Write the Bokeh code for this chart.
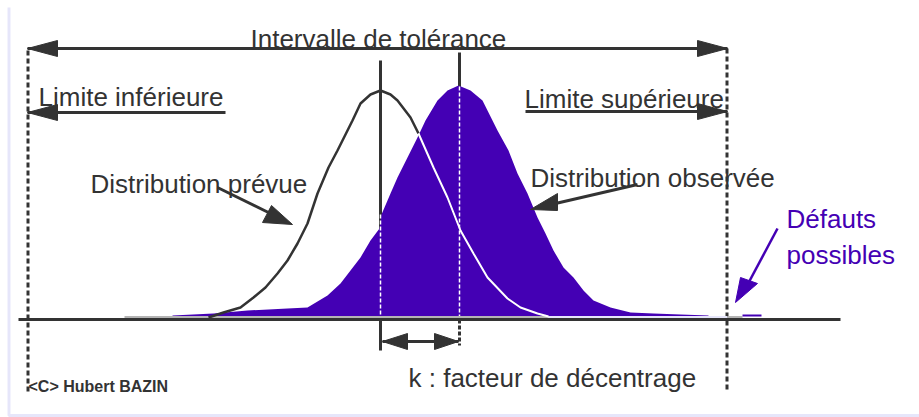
from bokeh.plotting import figure
from bokeh.models import Range1d
from bokeh.core.properties import value
from bokeh.embed import file_html
from bokeh.resources import INLINE

# ---------------- data (screen-like units) ----------------
# planned distribution (outline curve)
prevue_x = [208, 223, 240, 253, 265, 277, 287, 297, 307, 317, 328, 337, 352, 360, 370,
            380, 390, 397, 410, 418, 433, 447, 460, 473, 487, 507, 520, 537, 548]
prevue_y = [317, 312, 307, 297, 287, 273, 260, 243, 223, 193, 167, 150, 120, 103, 94,
            90, 94, 100, 117, 133, 167, 197, 230, 253, 277, 298, 307, 313, 316]
prevue_white_from = 418  # part of the outline lying inside the filled curve

# observed distribution (filled curve)
obs_x = [172, 213, 247, 287, 307, 327, 340, 350, 360, 370, 379, 381, 390, 397, 407, 417,
         425, 437, 447, 458, 470, 482, 497, 508, 517, 527, 537, 545, 553, 563, 573, 583,
         593, 610, 630, 653, 680, 708]
obs_y = [315, 313, 310, 308, 307, 295, 283, 270, 257, 240, 228, 214, 193, 177, 157, 137,
         120, 100, 90, 85, 90, 100, 130, 150, 173, 193, 217, 233, 250, 267, 277, 290,
         300, 307, 312, 313, 314, 315]
fill_bottom = 315.5

# tolerance limits and means
limit_x = [27.5, 726.5]
limit_top = [50, 48]
limit_bottom = 392
mean_x = [380, 459]
mean_top = [60, 52]
mean_fill_top = [214, 86]
mean_bottom = [350, 345]
baseline_y = 319
baseline_x = [18, 840]
strip_y = 316.5
strip_x0 = [124, 548, 727]
strip_x1 = [548, 727, 742]
defect_x = [742, 761]

# arrow shafts
shaft_x0 = [27, 27, 525, 217, 637, 382]
shaft_y0 = [48, 112, 111, 187, 184, 341]
shaft_x1 = [727, 225, 727, 272, 555, 458]
shaft_y1 = [48, 112, 111, 214, 203, 341]
defect_shaft = ([777, 228], [745, 288])

# arrow heads (triangles)
head_xs = [[27, 57, 57], [727, 697, 697], [27, 57, 57], [727, 697, 697],
           [292, 262, 271], [530, 557, 557], [382, 407, 407], [458, 434, 434]]
head_ys = [[48, 40, 56], [48, 40, 56], [112, 104, 120], [111, 103, 119],
           [224, 222, 205], [209, 193, 210], [341, 333, 349], [341, 333, 349]]
defect_head_xs = [[735, 740, 757]]
defect_head_ys = [[302, 277, 283]]

# texts
labels = ["Intervalle de tolérance", "Limite inférieure", "Limite supérieure",
          "Distribution prévue", "Distribution observée", "k : facteur de décentrage"]
label_x = [250, 38, 524, 90, 530, 408]
label_y = [38, 96, 98, 183, 177, 377]
defect_labels = ["Défauts", "possibles"]
defect_label_x = [786, 786]
defect_label_y = [218, 254]
credit = ["<C> Hubert BAZIN"]
credit_x = [28]
credit_y = [386]

# frame (left and bottom edges)
frame_x = [8.5, 8.5, 919]
frame_y = [7, 415, 415]

DARK = "#333333"
PURPLE = "#4400B4"
GRAY = "#b4b4b4"
LAV = "#e6e6fa"
FONT = value("Liberation Sans")

# ---------------- figure ----------------
W, H = 919, 417
p = figure(width=W, height=H, x_range=Range1d(0, W), y_range=Range1d(H, 0),
           output_backend="svg", toolbar_location=None, x_axis_type=None, y_axis_type=None,
           min_border=0, min_border_left=0, min_border_right=0, min_border_top=0,
           min_border_bottom=0)
p.grid.visible = False
p.outline_line_color = None
p.background_fill_color = "white"
p.border_fill_color = "white"

# frame
p.line(frame_x, frame_y, line_color=LAV, line_width=3)

# limits (dotted)
p.segment(x0=limit_x, y0=limit_top, x1=limit_x, y1=[limit_bottom] * 2,
          line_color=DARK, line_width=3, line_dash="5 3")

# mean lines (dark)
p.segment(x0=mean_x[:1], y0=mean_top[:1], x1=mean_x[:1], y1=mean_bottom[:1],
          line_color=DARK, line_width=3)
p.segment(x0=mean_x[1:], y0=mean_top[1:], x1=mean_x[1:], y1=[baseline_y],
          line_color=DARK, line_width=3)
p.segment(x0=mean_x[1:], y0=[baseline_y], x1=mean_x[1:], y1=mean_bottom[1:],
          line_color=DARK, line_width=3, line_dash="4 2")

# strip above baseline
p.segment(x0=strip_x0, y0=[strip_y] * 3, x1=strip_x1, y1=[strip_y] * 3,
          line_color=[GRAY, LAV, GRAY], line_width=2)

# observed distribution (filled)
p.varea(x=obs_x, y1=obs_y, y2=fill_bottom, fill_color=PURPLE)
p.segment(x0=defect_x[:1], y0=[fill_bottom - 0.5], x1=defect_x[1:], y1=[fill_bottom - 0.5],
          line_color=PURPLE, line_width=2)

# white dashed means inside fill
p.segment(x0=mean_x, y0=mean_fill_top, x1=mean_x, y1=[fill_bottom] * 2,
          line_color="white", line_width=1.5, line_dash="4 2")

# planned distribution outline
i = prevue_x.index(prevue_white_from)
p.line(prevue_x[:i + 1], prevue_y[:i + 1], line_color=DARK, line_width=2.5)
p.line(prevue_x[i:], prevue_y[i:], line_color="white", line_width=2)

# baseline
p.segment(x0=baseline_x[:1], y0=[baseline_y], x1=baseline_x[1:], y1=[baseline_y],
          line_color=DARK, line_width=3)

# arrows
p.segment(x0=shaft_x0, y0=shaft_y0, x1=shaft_x1, y1=shaft_y1, line_color=DARK, line_width=3)
p.patches(xs=head_xs, ys=head_ys, fill_color=DARK, line_color=DARK, line_width=1)
p.segment(x0=[defect_shaft[0][0]], y0=[defect_shaft[0][1]], x1=[defect_shaft[1][0]],
          y1=[defect_shaft[1][1]], line_color=PURPLE, line_width=2.5)
p.patches(xs=defect_head_xs, ys=defect_head_ys, fill_color=PURPLE, line_color=PURPLE,
          line_width=1)

# texts
p.text(x=label_x, y=label_y, text=labels, text_font=FONT, text_font_size="26px",
       text_color=DARK, text_baseline="alphabetic", text_align="left")
p.text(x=defect_label_x, y=defect_label_y, text=defect_labels, text_font=FONT,
       text_font_size="26px", text_color=PURPLE, text_baseline="alphabetic", text_align="left")
p.text(x=credit_x, y=credit_y, text=credit, text_font=FONT, text_font_size="16px",
       text_font_style="bold", text_color=DARK, text_baseline="alphabetic", text_align="left")

open("out.html", "w").write(file_html(p, INLINE))
